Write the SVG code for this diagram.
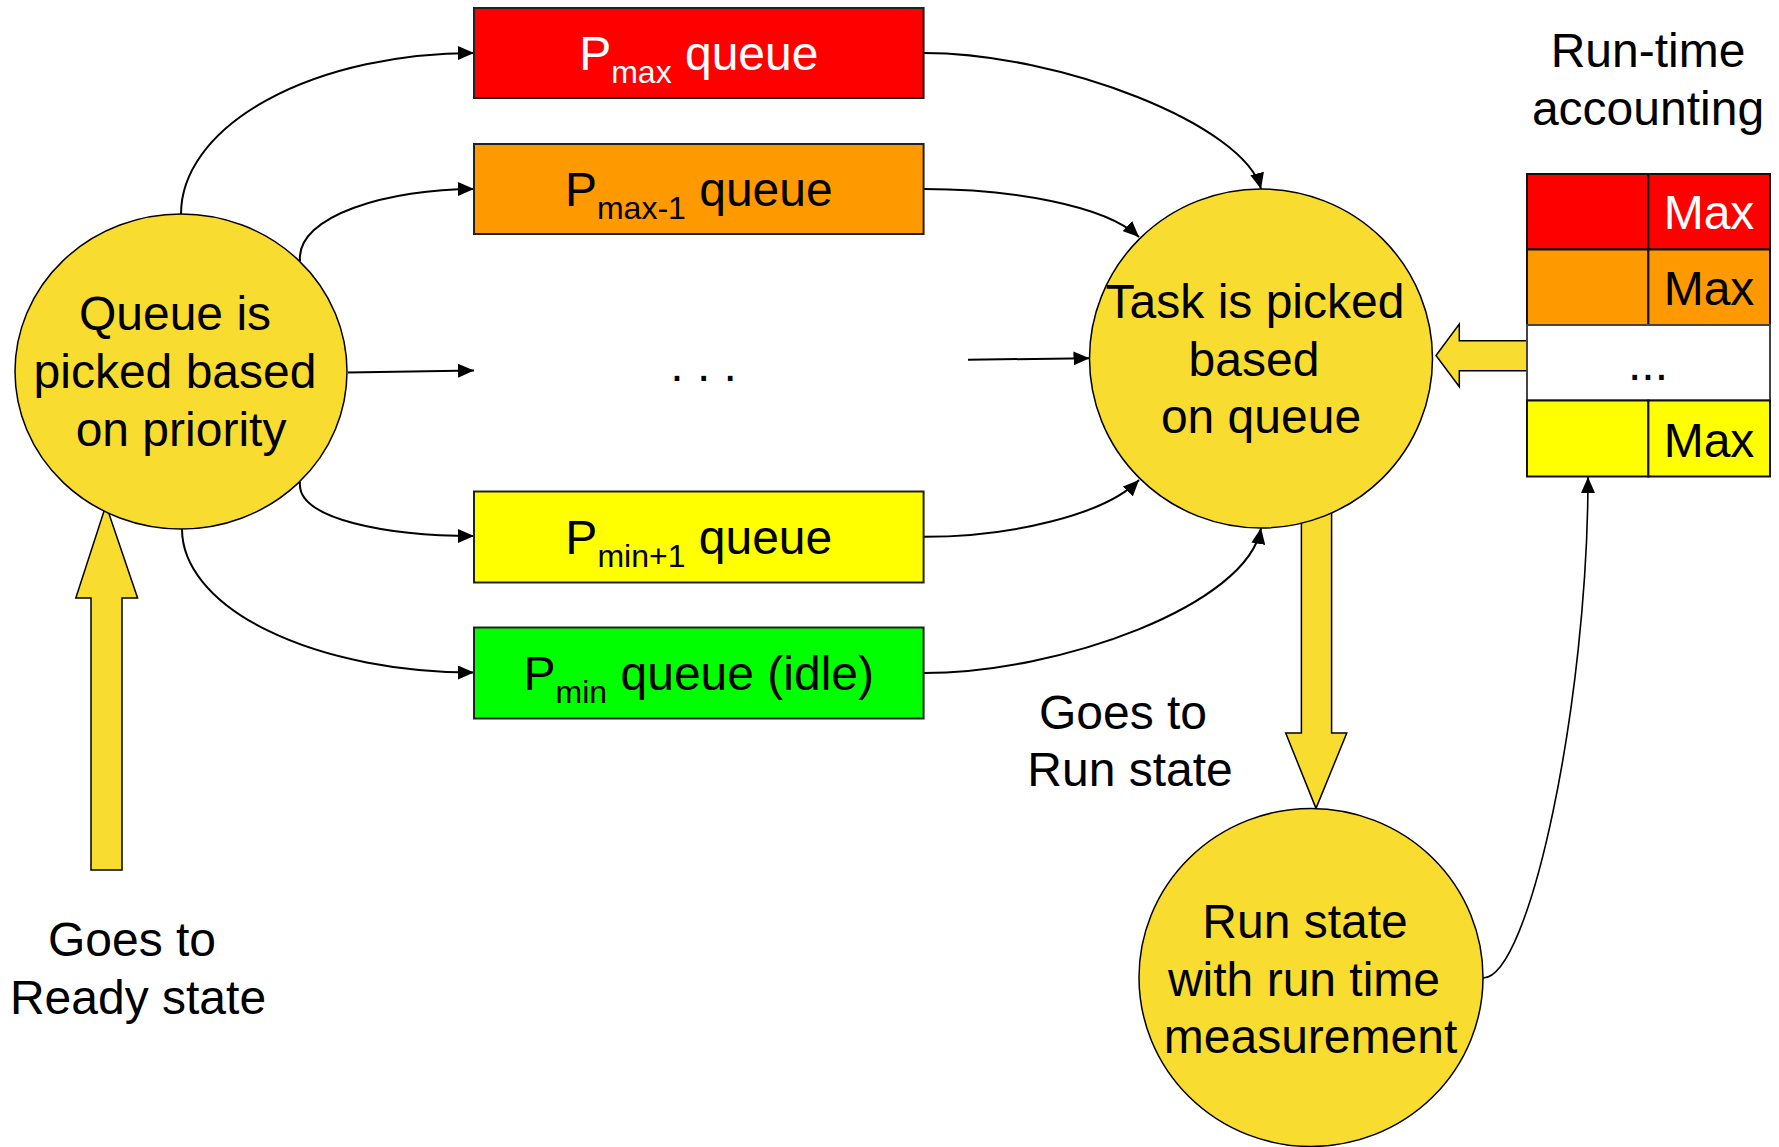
<svg xmlns="http://www.w3.org/2000/svg" width="1779" height="1147" viewBox="0 0 1779 1147">
  <defs>
    <style>
      text { font-family: "Liberation Sans", Arial, sans-serif; font-size: 48px; fill: #000; }
      .state { fill: #F9DC30; stroke: #000; stroke-width: 1.5; }
      .block { fill: #F9DC30; stroke: #000; stroke-width: 1.5; stroke-linejoin: miter; }
      .queue { stroke: #222; stroke-width: 2; }
      .cell { stroke: #111; stroke-width: 2; }
      .link { fill: none; stroke: #000; stroke-width: 2; marker-end: url(#tip); }
      .mid { text-anchor: middle; }
      .sub { font-size: 32px; }
    </style>
    <marker id="tip" markerUnits="userSpaceOnUse" markerWidth="16" markerHeight="14" refX="16" refY="7" orient="auto">
      <path d="M0,0 L16,7 L0,14 z" fill="#000"/>
    </marker>
  </defs>

  <rect width="1779" height="1147" fill="#fff"/>

  <!-- thick block arrows (drawn under the state circles) -->
  <g id="block-arrows">
    <polygon class="block" points="91,870 122,870 122,598 137.6,598 106,505 75.8,598 91,598"/>
    <polygon class="block" points="1301.4,470 1331.6,470 1331.6,733 1346.8,733 1316,808.4 1285.7,733 1301.4,733"/>
    <polygon class="block" points="1527,340.7 1459.3,340.7 1459.3,324 1436,355.5 1459.3,386.7 1459.3,370.7 1527,370.7"/>
  </g>

  <!-- connectors -->
  <g id="connectors">
    <path class="link" d="M181,214 A293,161 0 0 1 474,53"/>
    <path class="link" d="M300,261 C296,215 390,189 474,189"/>
    <path class="link" d="M348,372.5 L474,370.4"/>
    <path class="link" d="M300,482 C296,520 390,536 474,536"/>
    <path class="link" d="M182,529 A292,143.5 0 0 0 474,672.5"/>

    <path class="link" d="M924,53 C1060,53 1245,125 1261,189"/>
    <path class="link" d="M924,189 C1010,189 1105,205 1139,237"/>
    <path class="link" d="M968,359.7 L1089.5,358.3"/>
    <path class="link" d="M924,536.8 C1010,536.8 1105,515 1139,480"/>
    <path class="link" d="M924,673 C1060,673 1248,605 1261,528"/>

    <path class="link" style="stroke-width:1.6" d="M1483,978 C1530,978 1588,700 1588,477"/>
  </g>

  <!-- scheduler states -->
  <g id="node-queue-pick">
    <ellipse class="state" cx="181" cy="371.5" rx="166" ry="157.5"/>
    <text class="mid" x="175" y="330">Queue is</text>
    <text class="mid" x="175" y="388">picked based</text>
    <text class="mid" x="181" y="446">on priority</text>
  </g>

  <g id="node-task-pick">
    <ellipse class="state" cx="1261" cy="358.5" rx="171.5" ry="169.5"/>
    <text class="mid" x="1255" y="318">Task is picked</text>
    <text class="mid" x="1254" y="375.5">based</text>
    <text class="mid" x="1261" y="433">on queue</text>
  </g>

  <g id="node-run">
    <ellipse class="state" cx="1311" cy="977.5" rx="172" ry="169"/>
    <text class="mid" x="1305" y="938">Run state</text>
    <text class="mid" x="1304" y="995.5">with run time</text>
    <text class="mid" x="1310.5" y="1053">measurement</text>
  </g>

  <!-- priority queues -->
  <g id="queue-pmax">
    <rect class="queue" x="474" y="8" width="449.6" height="90" fill="#FF0000"/>
    <text class="mid" x="698.8" y="69.5" style="fill:#fff">P<tspan class="sub" dy="13" style="fill:#fff">max</tspan><tspan dy="-13" style="fill:#fff"> queue</tspan></text>
  </g>
  <g id="queue-pmax-1">
    <rect class="queue" x="474" y="144" width="449.6" height="90" fill="#FF9900"/>
    <text class="mid" x="698.8" y="206">P<tspan class="sub" dy="13">max-1</tspan><tspan dy="-13"> queue</tspan></text>
  </g>
  <g id="queue-more">
    <text class="mid" x="703.6" y="381">. . .</text>
  </g>
  <g id="queue-pmin+1">
    <rect class="queue" x="474" y="491.5" width="449.6" height="91" fill="#FFFF00"/>
    <text class="mid" x="698.8" y="553.5">P<tspan class="sub" dy="13">min+1</tspan><tspan dy="-13"> queue</tspan></text>
  </g>
  <g id="queue-pmin">
    <rect class="queue" x="474" y="627.5" width="449.6" height="91" fill="#00FF00"/>
    <text class="mid" x="698.8" y="690">P<tspan class="sub" dy="13">min</tspan><tspan dy="-13"> queue (idle)</tspan></text>
  </g>

  <!-- run-time accounting table -->
  <g id="accounting">
    <text class="mid" x="1648" y="67">Run-time</text>
    <text class="mid" x="1648" y="125">accounting</text>
    <rect class="cell" x="1527" y="174" width="121.4" height="75.5" fill="#FF0000"/>
    <rect class="cell" x="1648.4" y="174" width="121.6" height="75.5" fill="#FF0000"/>
    <rect class="cell" x="1527" y="249.5" width="121.4" height="75.5" fill="#FF9900"/>
    <rect class="cell" x="1648.4" y="249.5" width="121.6" height="75.5" fill="#FF9900"/>
    <rect class="cell" x="1527" y="325" width="243" height="75.5" fill="#FFFFFF" style="stroke:#444"/>
    <rect class="cell" x="1527" y="400.5" width="121.4" height="76" fill="#FFFF00"/>
    <rect class="cell" x="1648.4" y="400.5" width="121.6" height="76" fill="#FFFF00"/>
    <text class="mid" x="1709" y="229" style="fill:#fff">Max</text>
    <text class="mid" x="1709" y="305">Max</text>
    <text class="mid" x="1648" y="380">...</text>
    <text class="mid" x="1709" y="457">Max</text>
  </g>

  <!-- transition labels -->
  <g id="labels">
    <text class="mid" x="132" y="956">Goes to</text>
    <text class="mid" x="138" y="1013.5">Ready state</text>
    <text class="mid" x="1123" y="729">Goes to</text>
    <text class="mid" x="1130" y="786">Run state</text>
  </g>
</svg>
